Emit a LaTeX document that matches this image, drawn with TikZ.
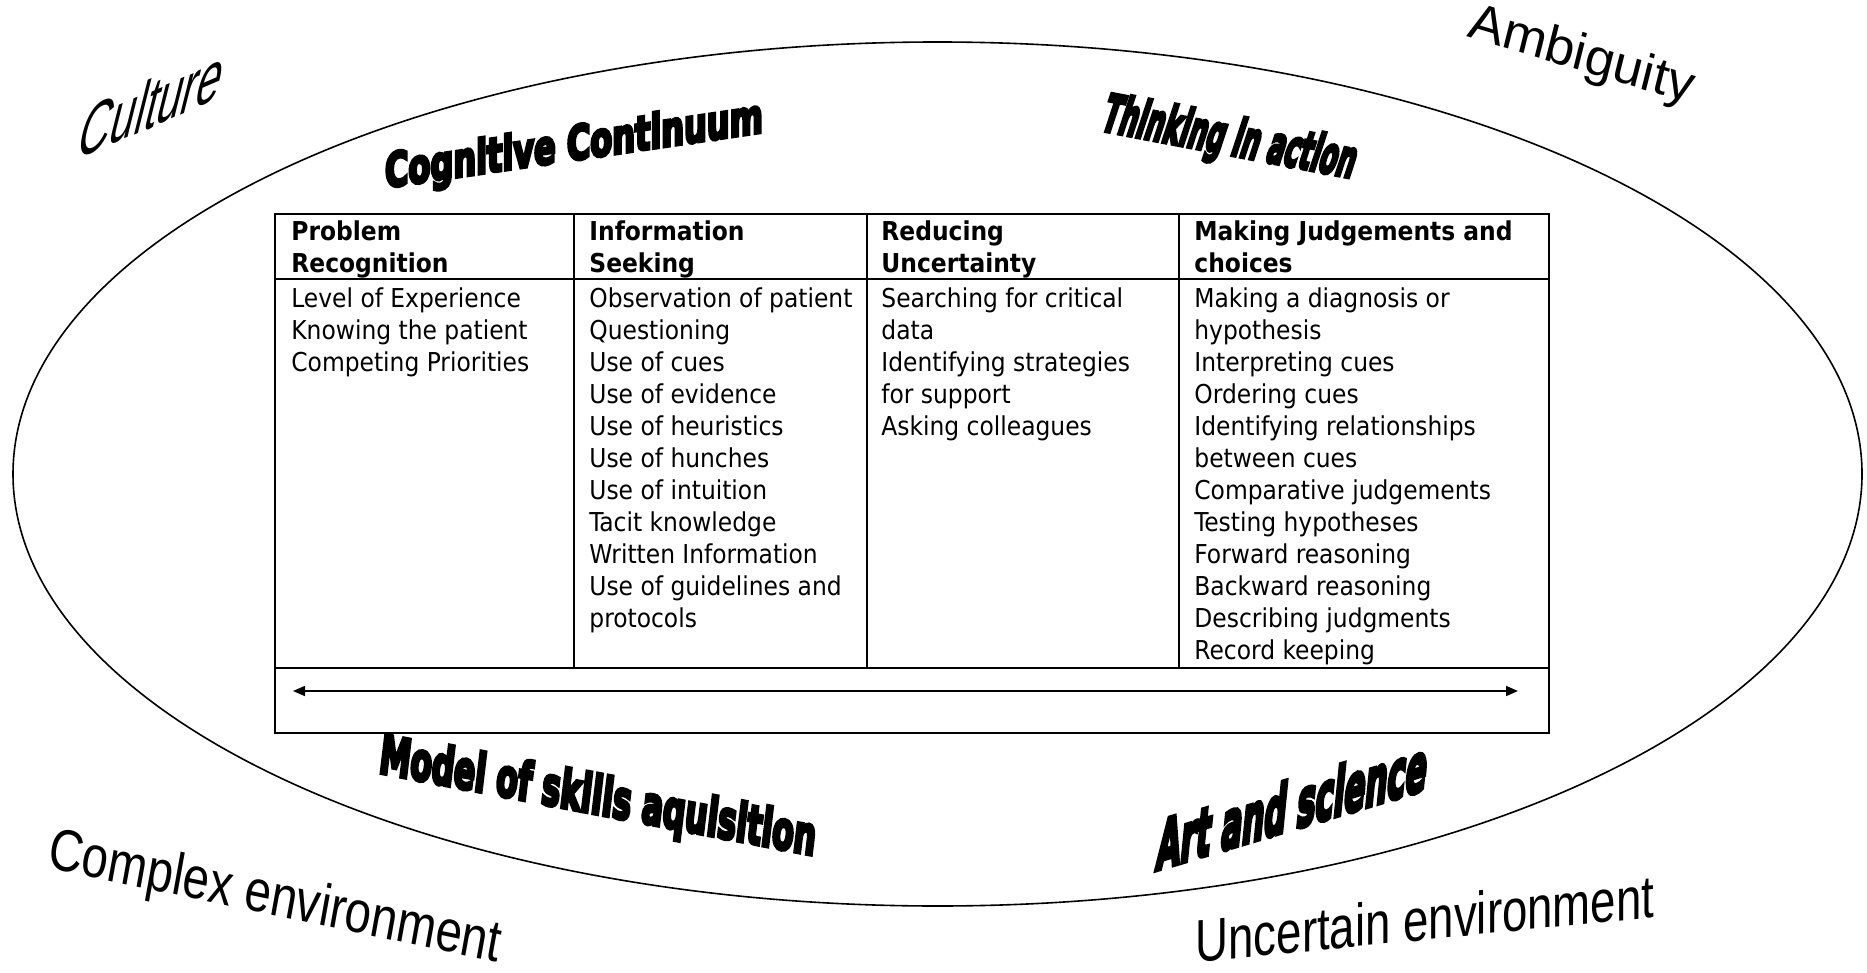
\documentclass[tikz,border=0pt]{standalone}
\usepackage{fontspec}
\usepackage{graphicx}
\usetikzlibrary{arrows.meta}
\newfontfamily\tabfont{DejaVu Sans Condensed}[BoldFont={DejaVu Sans Condensed Bold}]
\newfontfamily\artfont{Liberation Sans}
\newfontfamily\heavyfont{DejaVu Sans Condensed Bold}[FakeBold=7]
\begin{document}
\begin{tikzpicture}[x=0.5pt,y=-0.5pt,
    cell/.style={anchor=north west,inner sep=0pt,align=left,font=\tabfont\fontsize{13}{16}\selectfont},
    head/.style={cell,font=\tabfont\bfseries\fontsize{13}{16}\selectfont},
    heavy/.style={anchor=base,inner sep=0pt,font=\heavyfont\fontsize{24}{24}\selectfont},
    plain/.style={anchor=base,inner sep=0pt,font=\artfont\fontsize{#1}{#1}\selectfont},
    grid/.style={line width=1pt},
    both/.style={{Triangle[length=6pt,width=5pt]}-{Triangle[length=6pt,width=5pt]},line width=0.8pt}]
    \useasboundingbox (0,0) rectangle (1867,973);
    \draw[line width=0.8pt] (937.5,474) ellipse [x radius=924.5, y radius=432];
    % table
    \draw[grid] (275,214) rectangle (1549,733);
    \draw[grid] (275,279) -- (1549,279);
    \draw[grid] (275,668) -- (1549,668);
    \foreach \x in {574,867,1179} \draw[grid] (\x,214) -- (\x,668);
    \node[head] (probH) at (291,217.6) {\strut Problem\\Recognition};
    \node[head] (infoH) at (589,217.6) {\strut Information\\Seeking};
    \node[head] (redH) at (881,217.6) {\strut Reducing\\Uncertainty};
    \node[head] (judgH) at (1194,217.6) {\strut Making Judgements and\\choices};
    \node[cell] (probL) at (291,284.6) {\strut Level of Experience\\Knowing the patient\\Competing Priorities};
    \node[cell] (infoL) at (589,284.6) {\strut Observation of patient\\Questioning\\Use of cues\\Use of evidence\\Use of heuristics\\Use of hunches\\Use of intuition\\Tacit knowledge\\Written Information\\Use of guidelines and\\protocols};
    \node[cell] (redL) at (881,284.6) {\strut Searching for critical\\data\\Identifying strategies\\for support\\Asking colleagues};
    \node[cell] (judgL) at (1194,284.6) {\strut Making a diagnosis or\\hypothesis\\Interpreting cues\\Ordering cues\\Identifying relationships\\between cues\\Comparative judgements\\Testing hypotheses\\Forward reasoning\\Backward reasoning\\Describing judgments\\Record keeping};
    \coordinate (arrowL) at (293,691);
    \coordinate (arrowR) at (1518,691);
    \draw[both] (arrowL) -- (arrowR);
    % word art round the ellipse
    \node[plain=38,cm={0.58,0.25,0.25,1,(0,0)}] (culture) at (146,130) {Culture};
    \node[plain=25,cm={1.02,-0.306,0.25,1,(0,0)}] (ambig) at (1578,70) {Ambiguity};
    \node[heavy,cm={1,0.147,0,1,(0,0)}] (cogn) at (574,160) {\resizebox{189pt}{18pt}{Cognitive Continuum}};
    \node[heavy,cm={1,-0.19,0.33,1,(0,0)}] (think) at (1225,154) {\resizebox{126pt}{19pt}{Thinking in action}};
    \node[heavy,cm={1,-0.19,0.12,1,(0,0)}] (model) at (596,814) {\resizebox{218pt}{20pt}{Model of skills aquisition}};
    \node[heavy,cm={1,0.3,0.1,1,(0,0)}] (artsci) at (1290,830) {\resizebox{135pt}{26pt}{Art and science}};
    \node[plain=29,cm={0.8,-0.168,0.18,1,(0,0)}] (complex) at (272,915) {Complex environment};
    \node[plain=30,cm={0.76,0.075,0,1,(0,0)}] (uncert) at (1425,940) {Uncertain environment};
\end{tikzpicture}
\end{document}
